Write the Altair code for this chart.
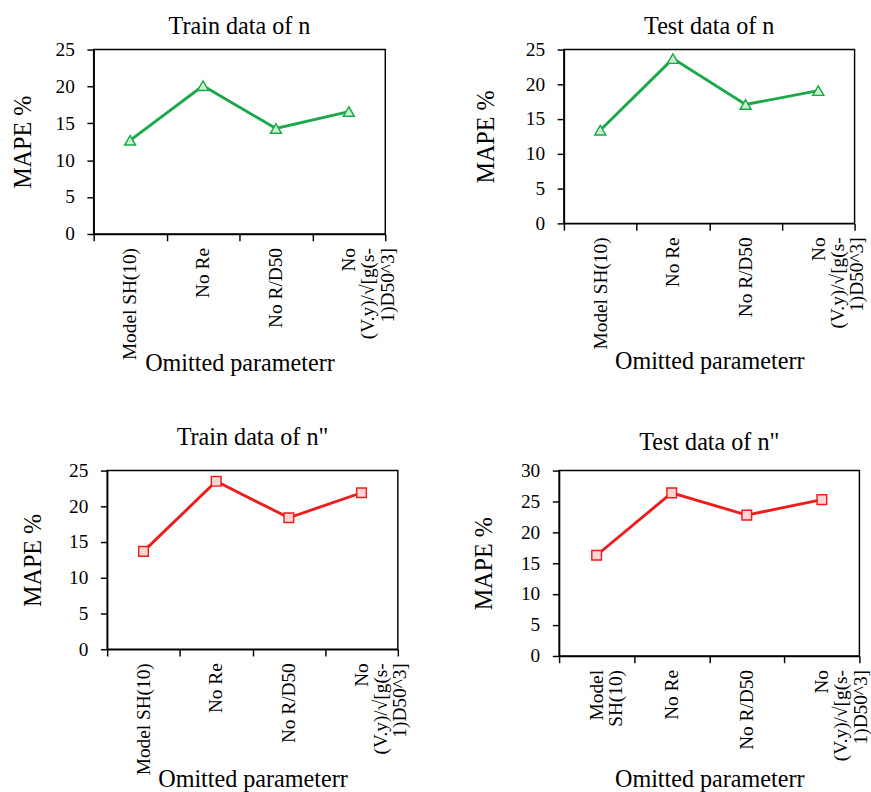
import altair as alt
import pandas as pd

categories = ["Model SH(10)", "No Re", "No R/D50", "No (V.y)/√[g(s-1)D50^3]"]
train_n = [12.7, 20.1, 14.3, 16.6]
test_n = [13.4, 23.7, 17.1, 19.1]
train_n2 = [13.7, 23.5, 18.4, 21.9]
test_n2 = [16.3, 26.4, 22.8, 25.3]

titles = ["Train data of n", "Test data of n", "Train data of n\"", "Test data of n\""]

FONT = "Liberation Serif"
GREEN = "#1aa84a"
GREEN_FILL = "#cdeecf"
RED = "#ee1c1c"
RED_FILL = "#fbd6d2"


def panel(values, title, color, fill, shape, msize, ymax, w, h, title_offset,
          ytitle_pad, xtitle_y, wrap_model):
    df = pd.DataFrame({"param": categories, "mape": values})
    expr = "datum.value == 'No (V.y)/√[g(s-1)D50^3]' ? ['No', '(V.y)/√[g(s-', '1)D50^3]'] : "
    if wrap_model:
        expr += "datum.value == 'Model SH(10)' ? ['Model', 'SH(10)'] : "
    expr += "datum.label"
    x = alt.X(
        "param:N", sort=categories,
        scale=alt.Scale(paddingInner=0, paddingOuter=0),
        axis=alt.Axis(title="Omitted parameterr", labelAngle=270, labelExpr=expr,
                      tickBand="extent", labelPadding=7, tickSize=7,
                      titleY=xtitle_y, titleBaseline="alphabetic",
                      labelLineHeight=20),
    )
    y = alt.Y(
        "mape:Q", scale=alt.Scale(domain=[0, ymax], nice=False),
        axis=alt.Axis(title="MAPE %", values=list(range(0, ymax + 1, 5)),
                      tickSize=7, labelPadding=13, titlePadding=ytitle_pad),
    )
    base = alt.Chart(df)
    line = base.mark_line(color=color, strokeWidth=3).encode(x=x, y=y)
    pts = base.mark_point(shape=shape, filled=True, fill=fill, stroke=color,
                          strokeWidth=1.5, size=msize, opacity=1).encode(x=x, y=y)
    return (line + pts).properties(
        width=w, height=h, title=alt.TitleParams(titles[title], offset=title_offset))


def spacer(w):
    return alt.Chart(pd.DataFrame({"s": [0]})).mark_point(opacity=0).encode(
        x=alt.X("s:Q", axis=None), y=alt.Y("s:Q", axis=None)
    ).properties(width=w, height=1, view=alt.ViewConfig(strokeOpacity=0))


p1 = panel(train_n, 0, GREEN, GREEN_FILL, "triangle-up", 130, 25, 302, 191, 1, 20, 141, False)
p2 = panel(test_n, 1, GREEN, GREEN_FILL, "triangle-up", 130, 25, 301, 180, 1, 28, 150, False)
p3 = panel(train_n2, 2, RED, RED_FILL, "square", 100, 25, 301, 185, 12, 24, 142, False)
p4 = panel(test_n2, 3, RED, RED_FILL, "square", 100, 30, 311, 192, 6, 25, 135, True)

top = alt.hconcat(p1, p2, spacing=185, bounds="flush")
bottom = alt.hconcat(spacer(14), p3, spacer(167), p4, spacing=0, bounds="flush")

chart = alt.concat(top, bottom, columns=1, spacing=50, align="none").properties(
    padding={"left": 11, "top": 0, "right": 0, "bottom": 0}
).configure_axis(
    labelFont=FONT, titleFont=FONT, labelFontSize=20, titleFontSize=25,
    labelColor="black", titleColor="black", titleFontWeight="normal",
    domainColor="black", tickColor="black", domainWidth=1.5, tickWidth=1.5,
    grid=False,
).configure_title(
    font=FONT, fontSize=25, fontWeight="normal", color="black",
).configure_view(
    stroke="black", strokeWidth=1.5,
)

chart.save("out.html", embed_options={"renderer": "svg", "actions": False})
